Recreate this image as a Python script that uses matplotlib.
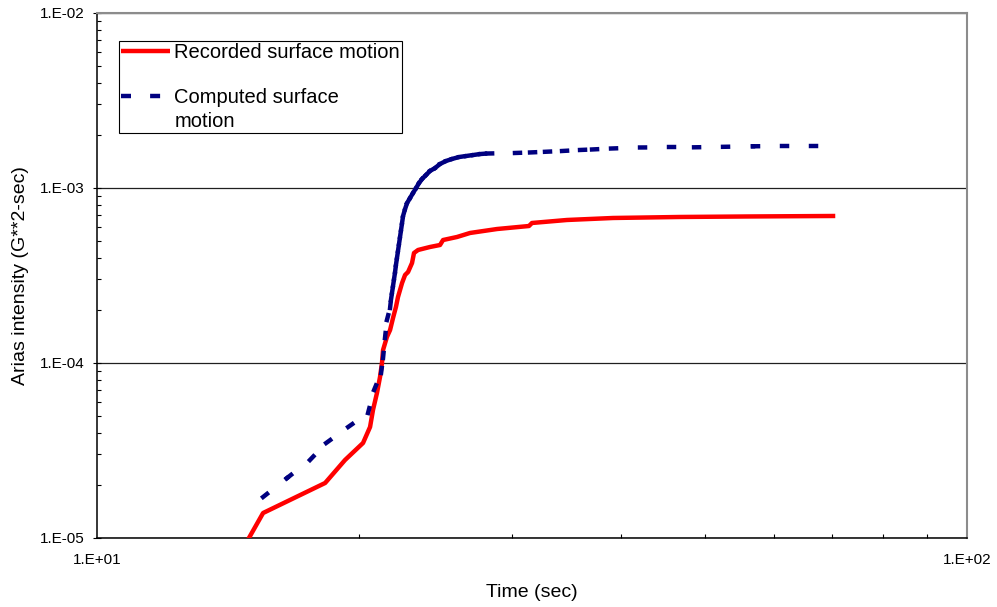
import matplotlib
matplotlib.use("Agg")
import matplotlib.pyplot as plt
import numpy as np
from matplotlib.collections import LineCollection
from matplotlib.lines import Line2D
from matplotlib.ticker import FuncFormatter, LogLocator

plt.rcParams["font.family"] = ["Liberation Sans", "DejaVu Sans"]

# Recorded surface motion
rec_time = [14.95, 15.52, 18.29, 19.28, 20.22, 20.60, 20.76, 20.98, 21.15, 21.26,
            21.32, 21.54, 21.72, 21.89, 22.06, 22.18, 22.42, 22.60, 22.78, 23.02,
            23.14, 23.39, 24.14, 24.79, 24.99, 25.93, 26.84, 28.83, 31.37, 31.62,
            34.69, 39.19, 46.79, 55.87, 70.15]
rec_arias = [1.000e-5, 1.389e-5, 2.062e-5, 2.791e-5, 3.490e-5, 4.309e-5, 5.387e-5,
             6.741e-5, 8.318e-5, 1.000e-4, 1.186e-4, 1.408e-4, 1.543e-4, 1.807e-4,
             2.089e-4, 2.382e-4, 2.865e-4, 3.184e-4, 3.311e-4, 3.727e-4, 4.252e-4,
             4.423e-4, 4.601e-4, 4.723e-4, 5.043e-4, 5.248e-4, 5.533e-4, 5.829e-4,
             6.064e-4, 6.310e-4, 6.564e-4, 6.739e-4, 6.829e-4, 6.874e-4, 6.918e-4]

# Computed surface motion
cmp_time = [15.52, 16.54, 17.57, 18.34, 19.44, 20.49, 20.82, 21.21, 21.32, 21.43,
            21.54, 21.72, 21.77, 21.83, 21.89, 21.95, 22.01, 22.06, 22.12, 22.18,
            22.24, 22.30, 22.36, 22.42, 22.48, 22.60, 22.72, 22.90, 23.08, 23.27,
            23.45, 23.64, 23.89, 24.14, 24.47, 24.79, 25.19, 25.59, 26.07, 26.56,
            27.06, 27.56, 28.08, 30.23, 31.46, 32.73, 34.24, 35.91, 37.07, 38.98,
            42.09, 45.45, 48.56, 52.43, 56.76, 61.29, 66.18, 67.95]
cmp_arias = [1.715e-5, 2.203e-5, 2.791e-5, 3.490e-5, 4.309e-5, 5.179e-5, 7.009e-5,
             8.767e-5, 1.068e-4, 1.389e-4, 1.760e-4, 2.062e-4, 2.291e-4, 2.512e-4,
             2.754e-4, 3.020e-4, 3.311e-4, 3.631e-4, 3.981e-4, 4.365e-4, 4.786e-4,
             5.248e-4, 5.754e-4, 6.310e-4, 6.918e-4, 7.586e-4, 8.206e-4, 8.766e-4,
             9.363e-4, 1.000e-3, 1.068e-3, 1.126e-3, 1.187e-3, 1.251e-3, 1.301e-3,
             1.372e-3, 1.427e-3, 1.465e-3, 1.503e-3, 1.523e-3, 1.543e-3, 1.563e-3,
             1.574e-3, 1.585e-3, 1.596e-3, 1.610e-3, 1.627e-3, 1.649e-3, 1.660e-3,
             1.681e-3, 1.704e-3, 1.708e-3, 1.708e-3, 1.719e-3, 1.731e-3, 1.738e-3,
             1.738e-3, 1.738e-3]

RED = "#FF0000"
NAVY = "#000080"
LW = 3.2


def sci_label(v, pos):
    return f"1.E{int(round(np.log10(v))):+03d}"


fig = plt.figure(figsize=(9.97, 6.07), dpi=100)
ax = fig.add_axes([0.0973, 0.1137, 0.8726, 0.8649])
ax.set_xscale("log")
ax.set_yscale("log")
ax.set_xlim(10, 100)
ax.set_ylim(1e-5, 1e-2)

ax.plot(rec_time, rec_arias, color=RED, lw=LW, solid_joinstyle="round", zorder=3)

# Excel restarts the dash pattern at every data point, so draw segment by segment
pts = np.column_stack([cmp_time, cmp_arias])
segs = np.stack([pts[:-1], pts[1:]], axis=1)
lc = LineCollection(segs, colors=NAVY, linewidths=LW,
                    linestyles=[(0, (1.13, 5.6))], capstyle="projecting", zorder=4)
ax.add_collection(lc)

# grid only at the inner decades
ax.yaxis.grid(True, which="major", color="#202020", lw=0.9)
ax.set_axisbelow(True)

for s in ("left", "bottom"):
    ax.spines[s].set_color("black")
    ax.spines[s].set_linewidth(1.1)
for s in ("top", "right"):
    ax.spines[s].set_color("#8c8c8c")
    ax.spines[s].set_linewidth(1.5)

ax.xaxis.set_major_locator(LogLocator(base=10))
ax.yaxis.set_major_locator(LogLocator(base=10))
ax.xaxis.set_minor_locator(LogLocator(base=10, subs=np.arange(2, 10)))
ax.yaxis.set_minor_locator(LogLocator(base=10, subs=np.arange(2, 10)))
ax.xaxis.set_minor_formatter(plt.NullFormatter())
ax.yaxis.set_minor_formatter(plt.NullFormatter())
ax.xaxis.set_major_formatter(FuncFormatter(sci_label))
ax.yaxis.set_major_formatter(FuncFormatter(sci_label))

ax.tick_params(which="minor", direction="in", length=3.2, width=0.8, color="black")
ax.tick_params(axis="y", which="major", direction="inout", length=6, width=0.8,
               pad=6, labelsize=11)
ax.tick_params(axis="x", which="major", length=0, pad=11, labelsize=11)

ax.set_xlabel("Time (sec)", fontsize=14, labelpad=12)
ax.set_ylabel("Arias intensity (G**2-sec)", fontsize=14, labelpad=8)

handles = [
    Line2D([], [], color=RED, lw=LW, solid_capstyle="butt"),
    Line2D([], [], color=NAVY, lw=LW, linestyle=(0, (2.25, 4.3)), dash_capstyle="butt"),
]
leg = ax.legend(handles, ["Recorded surface motion", "Computed surface\nmotion"],
                loc="upper left", bbox_to_anchor=(0.0253, 0.9467), borderaxespad=0,
                fontsize=14.5, frameon=True, fancybox=False, framealpha=1,
                edgecolor="black", handlelength=2.45, handletextpad=0.2,
                borderpad=0.1, labelspacing=1.3, handleheight=1.0)
leg.get_frame().set_linewidth(0.8)
for t in leg.get_texts():
    t.set_linespacing(1.3)
# keep the handle level with the first line of the wrapped label
for col in leg._legend_handle_box.get_children():
    for row in col.get_children():
        row.align = "top"

fig.savefig("out.png", dpi=100)
